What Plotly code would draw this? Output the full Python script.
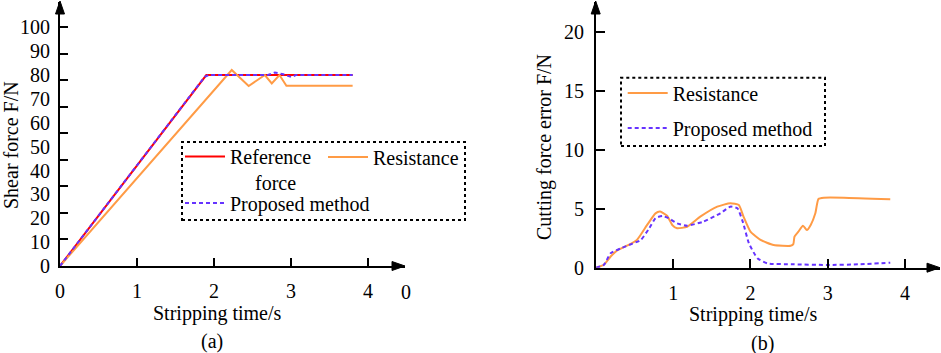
import plotly.graph_objects as go

# ---------------- data: panel (a) ----------------
ref_t = [0, 1.9, 3.8]
ref_f = [0, 80, 80]
res_t = [0, 2.23, 2.45, 2.66, 2.75, 2.85, 2.94, 3.8]
res_f = [0, 82.1, 75.4, 80.0, 76.5, 80.0, 75.5, 75.5]
prop_t = [0, 1.88, 1.93, 2.7, 2.79, 2.9, 3.01, 3.06, 3.8]
prop_f = [0, 79.3, 80, 80, 81.1, 80.3, 79.1, 80, 80]

# ---------------- data: panel (b) ----------------
res_err_t = [0, 0.1, 0.19, 0.27, 0.40, 0.53, 0.66, 0.77, 0.83, 0.92, 0.99, 1.05,
             1.18, 1.35, 1.57, 1.74, 1.85, 1.91, 2.00, 2.13, 2.30, 2.52, 2.555,
             2.57, 2.62, 2.68, 2.73, 2.78, 2.84, 2.88, 2.95, 3.21, 3.81]
res_err = [0, 0.25, 0.95, 1.45, 1.86, 2.35, 3.6, 4.6, 4.75, 4.4, 3.6, 3.34,
           3.47, 4.32, 5.17, 5.46, 5.3, 4.32, 3.05, 2.35, 1.92, 1.86, 2.0,
           2.63, 3.05, 3.56, 3.19, 3.62, 4.61, 5.82, 5.93, 5.93, 5.8]
prop_err_t = [0, 0.1, 0.19, 0.32, 0.45, 0.58, 0.69, 0.77, 0.86, 0.94, 1.05, 1.18,
              1.39, 1.61, 1.74, 1.83, 1.90, 1.98, 2.09, 2.22, 2.56, 2.99, 3.42, 3.81]
prop_err = [0, 0.23, 1.22, 1.64, 1.98, 2.35, 3.34, 4.19, 4.38, 4.19, 3.76, 3.56,
            3.9, 4.61, 5.17, 5.03, 3.9, 2.07, 0.8, 0.37, 0.29, 0.23, 0.29, 0.42]

# ---------------- tick labels ----------------
a_y_ticks = [0, 10, 20, 30, 40, 50, 60, 70, 80, 90, 100]
a_y_tick_marks = [11.11, 22.22, 33.33, 44.44, 55.56, 66.67, 77.78, 88.89, 99.99]
a_x_ticks = [0, 1, 2, 3, 4]
b_x_ticks = [1, 2, 3, 4]
b_y_ticks = [0, 5, 10, 15, 20]

RED = "#FF0000"
ORANGE = "#FF9B45"
BLUE = "#6633FF"
FONT = "Liberation Serif"
W, H = 941, 353


def px(x):
    return x / W


def py(y):
    return 1 - y / H


fig = go.Figure()

fig.add_trace(go.Scatter(x=ref_t, y=ref_f, mode="lines",
                         name="Reference<br>&nbsp;&nbsp;&nbsp;&nbsp;&nbsp;force",
                         line=dict(color=RED, width=2), xaxis="x", yaxis="y", legend="legend"))
fig.add_trace(go.Scatter(x=res_t, y=res_f, mode="lines", name="Resistance",
                         line=dict(color=ORANGE, width=2), xaxis="x", yaxis="y", legend="legend2"))
fig.add_trace(go.Scatter(x=prop_t, y=prop_f, mode="lines", name="Proposed method",
                         line=dict(color=BLUE, width=2, dash="4px,3px"), xaxis="x", yaxis="y",
                         legend="legend3"))

fig.add_trace(go.Scatter(x=res_err_t, y=res_err, mode="lines", name="Resistance",
                         line=dict(color=ORANGE, width=2, shape="spline", smoothing=0.5),
                         xaxis="x2", yaxis="y2", legend="legend4"))
fig.add_trace(go.Scatter(x=prop_err_t, y=prop_err, mode="lines", name="Proposed method",
                         line=dict(color=BLUE, width=2, dash="4px,3px", shape="spline", smoothing=0.5),
                         xaxis="x2", yaxis="y2", legend="legend5"))

axis_common = dict(showline=True, linecolor="black", linewidth=2, showgrid=False, automargin=False,
                   zeroline=False, tickcolor="black", tickfont=dict(family=FONT, size=20, color="black"))

leg_common = dict(bgcolor="rgba(0,0,0,0)", borderwidth=0, xanchor="left", yanchor="middle",
                  font=dict(family=FONT, size=20, color="black"), itemwidth=40, valign="top")

fig.update_layout(
    width=W, height=H,
    margin=dict(l=0, r=0, t=0, b=0, pad=0, autoexpand=False),
    paper_bgcolor="white", plot_bgcolor="white",
    showlegend=True,
    xaxis=dict(domain=[px(60), px(405)], range=[0, 4.48], tickvals=a_x_ticks, ticks="inside",
               ticklen=8, tickwidth=2, anchor="y", ticklabelstandoff=6, **axis_common),
    yaxis=dict(domain=[py(266), py(2)], range=[0, 110.6], tickvals=a_y_ticks, ticks="",
               anchor="x", ticklabelstandoff=4,
               minor=dict(tickvals=a_y_tick_marks, ticks="inside", ticklen=8, tickwidth=2,
                          tickcolor="black", showgrid=False),
               **axis_common),
    xaxis2=dict(domain=[px(596), px(940)], range=[0, 4.454], tickvals=b_x_ticks, ticks="inside",
                ticklen=9, tickwidth=2, anchor="y2", ticklabelstandoff=6, **axis_common),
    yaxis2=dict(domain=[py(267.7), py(2)], range=[0, 22.5], tickvals=b_y_ticks, ticks="inside",
                ticklen=9, tickwidth=2, anchor="x2", ticklabelstandoff=6, **axis_common),
    legend=dict(x=px(180), y=py(169.5), **leg_common),
    legend2=dict(x=px(323), y=py(157), **leg_common),
    legend3=dict(x=px(180), y=py(203), **leg_common),
    legend4=dict(x=px(622.7), y=py(93), **leg_common),
    legend5=dict(x=px(622.7), y=py(128), **leg_common),
)

# dashed legend frames
fig.add_shape(type="rect", xref="paper", yref="paper", x0=px(182), x1=px(465), y0=py(220), y1=py(142),
              line=dict(color="black", width=2, dash="dot"))
fig.add_shape(type="rect", xref="paper", yref="paper", x0=px(621), x1=px(825), y0=py(146), y1=py(77.7),
              line=dict(color="black", width=2, dash="dot"))


# arrow heads on axes
def tri(points):
    p = "M " + " L ".join(f"{px(a)},{py(b)}" for a, b in points) + " Z"
    return p


for pts in [
    [(405, 266), (392, 261.5), (392, 270.5)],
    [(60, 1), (55.5, 14), (64.5, 14)],
    [(940, 267.7), (927, 263.2), (927, 272.2)],
    [(595.7, 1), (591.2, 14), (600.2, 14)],
]:
    fig.add_shape(type="path", xref="paper", yref="paper", path=tri(pts),
                  fillcolor="black", line=dict(color="black", width=1))

ann_font = dict(family=FONT, size=20, color="black")
annotations = [
    dict(text="0", x=px(406), y=py(292)),
    dict(text="Stripping time/s", x=px(217), y=py(313)),
    dict(text="(a)", x=px(212), y=py(341)),
    dict(text="Shear force F/N", x=px(11), y=py(145), textangle=-90),
    dict(text="Stripping time/s", x=px(753), y=py(314)),
    dict(text="(b)", x=px(762), y=py(343)),
    dict(text="Cutting force error F/N", x=px(544), y=py(147), textangle=-90),
]
for a in annotations:
    fig.add_annotation(xref="paper", yref="paper", showarrow=False, xanchor="center",
                       yanchor="middle", font=ann_font, **a)

fig.write_html("out.html",
               config={"displayModeBar": False},
               post_script="document.body.style.margin='0px';document.body.style.overflow='hidden';")
